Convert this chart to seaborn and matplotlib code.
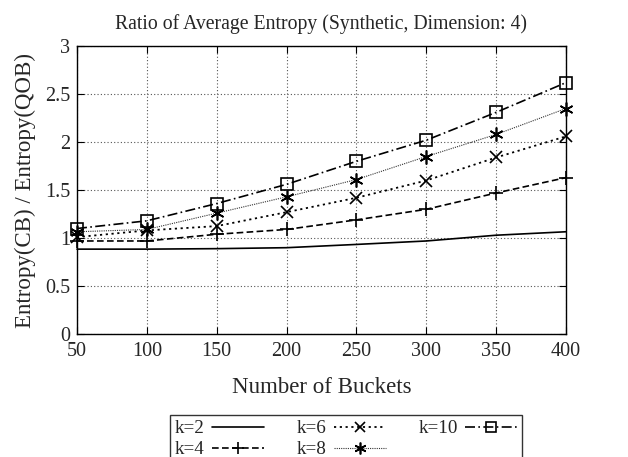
import matplotlib
matplotlib.use("Agg")
import matplotlib.pyplot as plt
import seaborn as sns
import pandas as pd

buckets = [50, 100, 150, 200, 250, 300, 350, 400]
k2 = [0.885, 0.885, 0.89, 0.90, 0.934, 0.97, 1.03, 1.066]
k4 = [0.97, 0.97, 1.04, 1.09, 1.19, 1.30, 1.47, 1.63]
k6 = [1.01, 1.08, 1.125, 1.27, 1.42, 1.60, 1.84, 2.06]
k8 = [1.066, 1.09, 1.26, 1.43, 1.61, 1.85, 2.08, 2.35]
k10 = [1.10, 1.18, 1.36, 1.56, 1.80, 2.02, 2.31, 2.62]
labels = ["k=2", "k=4", "k=6", "k=8", "k=10"]

sns.set_style("white")
plt.rcParams["font.family"] = ["Liberation Serif", "DejaVu Serif"]

df = pd.DataFrame({
    "buckets": buckets * 5,
    "ratio": k2 + k4 + k6 + k8 + k10,
    "k": [lab for lab in labels for _ in buckets],
})

styles = {
    "k=2": dict(linestyle="-", marker=None, lw=1.2, color="black"),
    "k=4": dict(linestyle=(0, (4, 2)), marker="+", lw=1.2, color="black", ms=10),
    "k=6": dict(linestyle=(0, (1.2, 2)), marker="x", lw=1.3, color="black", ms=9),
    "k=8": dict(linestyle=(0, (1, 1)), marker=(6, 2, 0), lw=0.8, color="#333333", ms=10),
    "k=10": dict(linestyle=(0, (6, 2, 1, 2)), marker="s", lw=1.2, color="black", ms=9),
}

fig = plt.figure(figsize=(6.28, 4.57), dpi=100)
ax = fig.add_axes([0.1226, 0.269, 0.7786, 0.630])

for lab in labels:
    st = styles[lab]
    sub = df[df["k"] == lab]
    sns.lineplot(
        data=sub, x="buckets", y="ratio", ax=ax, label=lab,
        color=st["color"], linestyle=st["linestyle"], linewidth=st["lw"],
        marker=st["marker"], markersize=st.get("ms", 8),
        markerfacecolor="none", markeredgecolor="black", markeredgewidth=1.2,
        clip_on=False,
    )

ax.set_xlim(50, 400)
ax.set_ylim(0, 3)
ax.set_xticks(buckets)
ax.set_yticks([0, 0.5, 1, 1.5, 2, 2.5, 3])
ax.set_yticklabels(["0", "0.5", "1", "1.5", "2", "2.5", "3"])
ax.grid(True, linestyle=(0, (1, 2)), color="#555555", linewidth=0.8)
for sp in ax.spines.values():
    sp.set_color("black")
    sp.set_linewidth(1.0)
ax.tick_params(axis="both", labelsize=14.5, direction="in", length=5, color="black",
               top=True, right=True, bottom=True, left=True)
ax.tick_params(axis="x", pad=6)
ax.tick_params(axis="y", pad=5)
ax.set_xlabel("Number of Buckets", fontsize=16.5, labelpad=11)
ax.set_ylabel("Entropy(CB) / Entropy(QOB)", fontsize=16.5, labelpad=6)
ax.set_title("Ratio of Average Entropy (Synthetic, Dimension: 4)", fontsize=14.2, pad=12)

handles, labs = ax.get_legend_handles_labels()
ax.get_legend().remove()
leg = fig.legend(
    handles, labs, ncol=3, loc="upper left", bbox_to_anchor=(170 / 628, 1 - 415 / 457),
    frameon=True, fancybox=False, edgecolor="black", fontsize=13.8,
    markerfirst=False, handlelength=2.7, columnspacing=1.7, handletextpad=0.4,
    borderpad=0.25, labelspacing=0.2, markerscale=0.85, borderaxespad=0,
)
leg.get_frame().set_linewidth(1.0)

fig.savefig("out.png", dpi=100)
